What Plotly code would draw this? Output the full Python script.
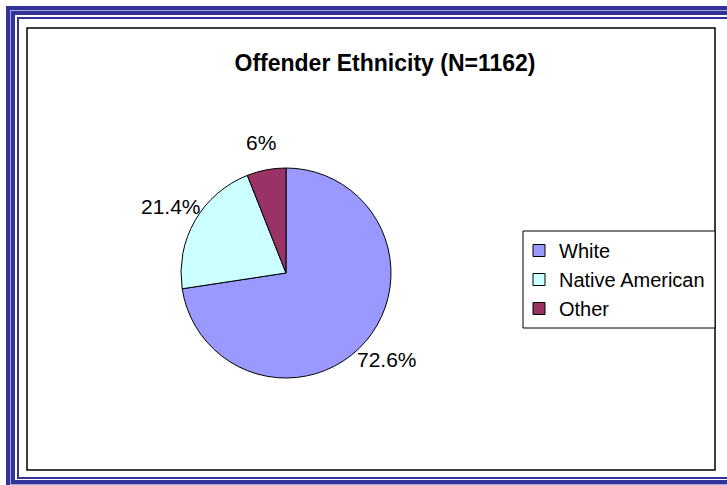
import math
import plotly.graph_objects as go

# Chart data
categories = ["White", "Native American", "Other"]
shares = [72.6, 21.4, 6.0]
slice_colors = ["#9999ff", "#ccffff", "#993366"]
title_text = "Offender Ethnicity (N=1162)"

W, H = 727, 485
FONT = "Liberation Sans, Arial, sans-serif"


def px(x):
    """Pixel x -> paper x."""
    return x / W


def py(y):
    """Pixel y (from top) -> paper y."""
    return 1 - y / H


# pie placement in pixels
cx, cy, r = 286, 273, 105

fig = go.Figure(
    go.Pie(
        labels=categories,
        values=shares,
        sort=False,
        direction="clockwise",
        rotation=0,
        marker=dict(colors=slice_colors, line=dict(color="black", width=1)),
        textinfo="none",
        hoverinfo="label+percent",
        domain=dict(x=[px(cx - r), px(cx + r)], y=[py(cy + r), py(cy - r)]),
    )
)

# percentage labels just outside each slice, at its mid angle
label_dist = r + 28
total = sum(shares)
acc = 0.0
for v in shares:
    mid = (acc + v / 2) / total * 2 * math.pi
    acc += v
    lx = cx + label_dist * math.sin(mid)
    ly = cy - label_dist * math.cos(mid)
    fig.add_annotation(
        x=px(lx), y=py(ly), xref="paper", yref="paper",
        text=f"{v:g}%", showarrow=False,
        xanchor="center", yanchor="middle",
        font=dict(family=FONT, size=21, color="black"),
    )

shapes = []
# decorative blue frame: (left/top offset, bottom y, line width, colour)
frame = [
    (8, 487, 4, "#333399"),
    (10.5, 484.5, 1, "#a8a8d8"),
    (13, 482, 4, "#333399"),
    (18, 478, 2, "#333399"),
]
for off, bottom, lw, col in frame:
    shapes.append(dict(
        type="rect", xref="paper", yref="paper",
        x0=px(off), x1=px(745), y0=py(off), y1=py(bottom),
        line=dict(color=col, width=lw), fillcolor="rgba(0,0,0,0)", layer="below",
    ))
# chart area border
shapes.append(dict(
    type="rect", xref="paper", yref="paper",
    x0=px(27), x1=px(715), y0=py(28), y1=py(470),
    line=dict(color="black", width=1.5), fillcolor="rgba(0,0,0,0)", layer="below",
))
# legend box
shapes.append(dict(
    type="rect", xref="paper", yref="paper",
    x0=px(523), x1=px(715), y0=py(231), y1=py(328),
    line=dict(color="black", width=1), fillcolor="white", layer="below",
))

fig.update_layout(
    width=W, height=H,
    margin=dict(l=0, r=0, t=0, b=0),
    paper_bgcolor="white",
    plot_bgcolor="white",
    shapes=shapes,
    title=dict(
        text=title_text,
        x=px(385), y=py(63), xref="paper", yref="paper",
        xanchor="center", yanchor="middle",
        font=dict(family=FONT, size=23, color="black", weight="bold"),
    ),
    showlegend=True,
    legend=dict(
        x=px(519), y=py(279.5), xanchor="left", yanchor="middle",
        bgcolor="rgba(0,0,0,0)", borderwidth=0,
        font=dict(family=FONT, size=20, color="black"),
        traceorder="normal",
    ),
)

fig.write_html("out.html")
